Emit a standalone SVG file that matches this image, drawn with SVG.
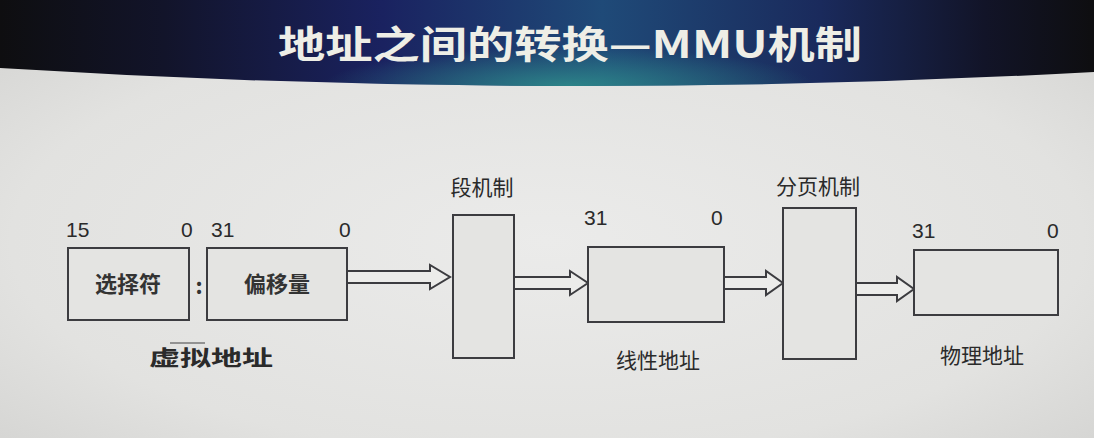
<svg xmlns="http://www.w3.org/2000/svg" width="1094" height="438" viewBox="0 0 1094 438">
<defs>
<radialGradient id="bg" cx="0.5" cy="0.55" r="0.7">
<stop offset="0" stop-color="#ebebea"/>
<stop offset="0.7" stop-color="#e2e2e0"/>
<stop offset="1" stop-color="#d4d4d2"/>
</radialGradient>
<linearGradient id="hdr" x1="0" y1="0" x2="1" y2="0">
<stop offset="0" stop-color="#0e0e10"/>
<stop offset="0.15" stop-color="#12142a"/>
<stop offset="0.35" stop-color="#1a2260"/>
<stop offset="0.55" stop-color="#1f4a78"/>
<stop offset="0.75" stop-color="#1a2a5c"/>
<stop offset="0.9" stop-color="#121428"/>
<stop offset="1" stop-color="#0e0e10"/>
</linearGradient>
<radialGradient id="glow" cx="0.52" cy="1" r="0.45" gradientTransform="translate(0.26 0) scale(0.5 1)">
<stop offset="0" stop-color="#2e8a8a" stop-opacity="0.9"/>
<stop offset="1" stop-color="#2e8a8a" stop-opacity="0"/>
</radialGradient>
<style>
.box{fill:#e4e4e2;stroke:#3c3c40;stroke-width:2}
.arr{fill:#ececea;stroke:#3c3c40;stroke-width:2;stroke-linejoin:miter}
.num{font-family:"Liberation Sans","Noto Sans",sans-serif;font-size:21px;fill:#2a2a2a}
.lbl{font-family:"Noto Sans CJK SC",sans-serif;font-size:21px;fill:#2a2a2a}
.in{font-family:"Noto Sans CJK SC",sans-serif;font-size:22px;font-weight:bold;fill:#333}
</style>
</defs>
<rect width="1094" height="438" fill="url(#bg)"/>
<g id="header">
<path d="M0,0 H1094 V72 Q547,102 0,68 Z" fill="url(#hdr)"/>
<path d="M0,0 H1094 V72 Q547,102 0,68 Z" fill="url(#glow)"/>
<text x="570" y="58" text-anchor="middle" font-family="Noto Sans CJK SC,sans-serif" font-size="38" font-weight="bold" fill="#eeeee6" textLength="584" lengthAdjust="spacingAndGlyphs">地址之间的转换—MMU机制</text>
</g>
<g id="connectors">
<path class="arr" d="M347,271 H430 V265 L450,277 L430,289 V283 H347 Z"/>
<path class="arr" d="M514,277 H570 V271 L588,283 L570,295 V289 H514 Z"/>
<path class="arr" d="M724,277 H766 V271 L783,283 L766,295 V289 H724 Z"/>
<path class="arr" d="M856,283 H897 V277 L914,289 L897,301 V295 H856 Z"/>
</g>
<g id="selector">
<rect class="box" x="68" y="248" width="121" height="72"/>
<text class="in" x="128" y="292" text-anchor="middle">选择符</text>
<text class="num" x="66" y="237">15</text>
<text class="num" x="181" y="237">0</text>
</g>
<g id="colon">
<text class="in" x="199" y="294" text-anchor="middle">:</text>
</g>
<g id="offset">
<rect class="box" x="207" y="248" width="140" height="72"/>
<text class="in" x="277" y="292" text-anchor="middle">偏移量</text>
<text class="num" x="211" y="237">31</text>
<text class="num" x="339" y="237">0</text>
</g>
<g id="virtual-label">
<line x1="170" y1="343" x2="205" y2="343" stroke="#777" stroke-width="1.5"/>
<text class="lbl" x="211" y="365" text-anchor="middle" font-weight="bold" textLength="124" lengthAdjust="spacingAndGlyphs">虚拟地址</text>
</g>
<g id="segment">
<rect class="box" x="453" y="215" width="61" height="143"/>
<text class="lbl" x="482" y="195" text-anchor="middle">段机制</text>
</g>
<g id="linear">
<rect class="box" x="588" y="247" width="136" height="75"/>
<text class="num" x="584" y="225">31</text>
<text class="num" x="711" y="225">0</text>
<text class="lbl" x="658" y="368" text-anchor="middle">线性地址</text>
</g>
<g id="paging">
<rect class="box" x="783" y="208" width="73" height="151"/>
<text class="lbl" x="818" y="194" text-anchor="middle">分页机制</text>
</g>
<g id="physical">
<rect class="box" x="914" y="250" width="144" height="65"/>
<text class="num" x="912" y="238">31</text>
<text class="num" x="1047" y="238">0</text>
<text class="lbl" x="982" y="363" text-anchor="middle">物理地址</text>
</g>
</svg>
